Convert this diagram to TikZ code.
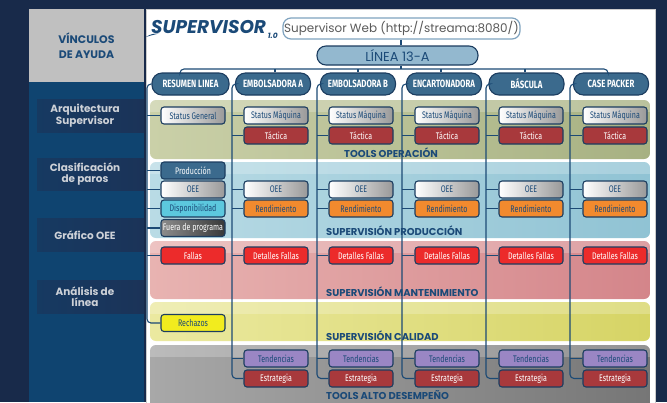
\documentclass[tikz,border=0pt]{standalone}
\usepackage{fontspec}
\setmainfont{Poppins}
\newfontfamily\cond[FakeStretch=0.74]{Fira Sans}
\definecolor{navy}{HTML}{182A4A}
\definecolor{panelblue}{HTML}{0F4470}
\definecolor{menuband}{HTML}{1B3358}
\definecolor{lgray}{HTML}{C0C0C0}
\definecolor{dblue}{HTML}{1B4A78}
\definecolor{bord}{HTML}{1C3D60}
\definecolor{conncol}{HTML}{1C4A75}
\definecolor{hdrfill}{HTML}{3B6A8D}
\definecolor{lineafill}{HTML}{93B8CF}
\definecolor{boxgray}{HTML}{999999}
\definecolor{tactred}{HTML}{A8393C}
\definecolor{dispcyan}{HTML}{5CC8DE}
\definecolor{rendor}{HTML}{F28A2E}
\definecolor{fallred}{HTML}{EC2B2B}
\definecolor{rechy}{HTML}{F2EC1E}
\definecolor{tendp}{HTML}{9A86C4}
\definecolor{menutext}{HTML}{CDD1D7}
\definecolor{webgray}{HTML}{5A5A5A}
\definecolor{webbord}{HTML}{7FA3BF}
\definecolor{oliveL}{HTML}{CAD0A8}
\definecolor{oliveR}{HTML}{A7B182}
\definecolor{blueL}{HTML}{B9DBE5}
\definecolor{blueR}{HTML}{90C3D4}
\definecolor{pinkL}{HTML}{E8B3B1}
\definecolor{pinkR}{HTML}{D4858A}
\definecolor{yelL}{HTML}{EBE9A0}
\definecolor{yelR}{HTML}{D6D465}
\definecolor{grayL}{HTML}{A8A8A8}
\definecolor{grayR}{HTML}{767676}
\begin{document}
\begin{tikzpicture}[x=1bp,y=-1bp,
  conn/.style={draw=conncol, line width=1.1bp},
  box/.style={draw=bord, line width=1.1bp, rounded corners=3bp, minimum width=64bp,
    minimum height=17bp, inner sep=0pt, font=\cond\fontsize{9.6}{10}\selectfont},
  gbox/.style={box, left color=white, right color=boxgray, text=dblue},
  tbox/.style={box, fill=tactred, text=white},
  pbox/.style={box, fill=hdrfill, text=white},
  dbox/.style={box, fill=dispcyan, text=dblue},
  fbox/.style={box, left color=black!45, right color=black!78, text=white},
  rbox/.style={box, fill=rendor, text=dblue},
  fabox/.style={box, fill=fallred, text=white},
  rebox/.style={box, fill=rechy, text=dblue},
  tebox/.style={box, fill=tendp, text=dblue},
  hdr/.style={draw=bord, line width=1.1bp, fill=hdrfill, rounded corners=10bp,
    minimum width=75bp, minimum height=22bp, inner sep=0pt, text=white,
    font=\cond\bfseries\fontsize{10.6}{11}\selectfont},
  bandlabel/.style={anchor=west, inner sep=0pt, text=dblue, font=\bfseries\fontsize{10}{10}\selectfont},
  menu/.style={align=center, text=menutext, inner sep=0pt, font=\bfseries\fontsize{10.5}{11.5}\selectfont},
  menuband/.style={left color=menuband!60!panelblue, right color=menuband, draw=none}
]
\useasboundingbox (0,0) rectangle (667,402);
\fill[navy] (0,0) rectangle (667,402);
% left panel
\fill[lgray] (29,9) rectangle (144,82);
\fill[panelblue] (29,82) rectangle (144,402);
\node[align=center, text=dblue, inner sep=0pt, font=\bfseries\fontsize{11}{15}\selectfont] (vinc) at (86.5,46) {VÍNCULOS\\DE AYUDA};
\fill[menuband] (37,99) rectangle (144,132);
\fill[menuband] (37,158) rectangle (144,190);
\fill[menuband] (37,218) rectangle (144,251);
\fill[menuband] (37,280) rectangle (144,313);
\node[menu] (m1) at (85,115.5) {Arquitectura\\Supervisor};
\node[menu] (m2) at (85,174) {Clasificación\\de paros};
\node[menu] (m3) at (85,235) {Gráfico OEE};
\node[menu] (m4) at (85,296.5) {Análisis de\\línea};
% main white panel
\fill[white, draw=black!20, line width=0.8bp] (146,9) rectangle (655,405);
% bands
\def\band#1#2#3#4{%
  \begin{scope}
  \clip[rounded corners=6bp] (150,#1) rectangle (650,#2);
  \shade[left color=#3, right color=#4] (150,#1) rectangle (650,#2);
  \fill[white, opacity=0.22] (150,#1) rectangle (650,#1+12);
  \end{scope}}
\band{100}{159}{oliveL}{oliveR}
\band{162}{238}{blueL}{blueR}
\band{241}{299}{pinkL}{pinkR}
\band{302}{341}{yelL}{yelR}
\band{345}{410}{grayL}{grayR}
\node[bandlabel] (lb1) at (344,153) {TOOLS OPERACIÓN};
\node[bandlabel] (lb2) at (326,230.5) {SUPERVISIÓN PRODUCCIÓN};
\node[bandlabel] (lb3) at (326,292) {SUPERVISIÓN MANTENIMIENTO};
\node[bandlabel] (lb4) at (326,335.5) {SUPERVISIÓN CALIDAD};
\node[bandlabel] (lb5) at (326,395) {TOOLS ALTO DESEMPEÑO};
% logo
\node[anchor=base west, inner sep=0pt, text=dblue, font=\bfseries\itshape\fontsize{18.5}{19}\selectfont] (logo) at (151,33) {SUPERVISOR};
\node[anchor=base west, inner sep=0pt, text=dblue, font=\bfseries\itshape\fontsize{7.5}{8}\selectfont] (ver) at ([xshift=1.5bp,yshift=-5bp]logo.base east) {1.0};
\fill[dblue] (146,37) .. controls (150,34) and (155,33.3) .. (159,33.5) .. controls (155,34.5) and (150,35.5) .. (146,37) -- cycle;
% web + linea
\node[draw=webbord, line width=1.2bp, fill=white, rounded corners=8bp, minimum width=237bp, minimum height=21bp, inner sep=0pt, text=webgray, font=\fontsize{12}{12}\selectfont] (web) at (401.5,28.5) {Supervisor Web (http://streama:8080/)};
\node[draw=bord, line width=1.1bp, fill=lineafill, rounded corners=9bp, minimum width=161bp, minimum height=19bp, inner sep=0pt, text=dblue, font=\fontsize{13}{13}\selectfont] (linea) at (397.5,55.5) {LÍNEA 13-A};
\draw[conn] (web.south -| 401,0) -- (linea.north -| 401,0);
\coordinate (bus) at (401,69);
% headers
\node[hdr, minimum width=77bp] (h0) at (190.5,84) {RESUMEN LINEA};
\node[hdr] (h1) at (273,84) {EMBOLSADORA A};
\node[hdr] (h2) at (358,84) {EMBOLSADORA B};
\node[hdr] (h3) at (444,84) {ENCARTONADORA};
\node[hdr] (h4) at (526.5,84) {BÁSCULA};
\node[hdr] (h5) at (611,84) {CASE PACKER};
\draw[conn] (linea.south -| bus) -- (bus);
\draw[conn, rounded corners=4bp] ([xshift=-10.5bp]h0.north) |- (bus) -| ([xshift=-3bp]h5.north);
\foreach \i/\dx in {1/2,2/0,3/-3,4/-1.5}{
  \draw[conn] ([xshift=\dx bp]h\i.north) -- ([xshift=\dx bp]h\i.north |- bus);
}
% column 0
\coordinate (L0) at (147,84);
\node[gbox] (sg0) at (193,115.5) {Status General};
\node[pbox] (pr0) at (193,170.5) {Producción};
\node[gbox] (oe0) at (193,189.5) {OEE};
\node[dbox] (di0) at (193,208.5) {Disponibilidad};
\node[fbox] (fu0) at (193,228) {Fuera de programa};
\node[fabox] (fa0) at (193,255.5) {Fallas};
\node[rebox] (rc0) at (193,323) {Rechazos};
\draw[conn, rounded corners=4bp] (h0.west) -| (rc0.west -| L0) -- (rc0.west);
\foreach \b in {sg0,pr0,oe0,di0,fu0,fa0}{
  \draw[conn] (\b.west -| L0) -- (\b.west);
}
% columns 1-5
\foreach \i/\cx/\lx in {1/276/232,2/361/317,3/447/402,4/531/486,5/615/570}{
  \coordinate (L\i) at (\lx,84);
  \node[gbox] (sm\i) at (\cx,115.5) {Status Máquina};
  \node[tbox] (ta\i) at (\cx,135.5) {Táctica};
  \node[gbox] (oe\i) at (\cx,189.5) {OEE};
  \node[rbox] (re\i) at (\cx,208.5) {Rendimiento};
  \node[fabox] (df\i) at (\cx,255.5) {Detalles Fallas};
  \node[tebox] (te\i) at (\cx,358.5) {Tendencias};
  \node[tbox] (es\i) at (\cx,378.5) {Estrategia};
  \draw[conn, rounded corners=4bp] (h\i.west) -| (es\i.west -| L\i) -- (es\i.west);
  \foreach \b in {sm,ta,oe,re,df,te}{
    \draw[conn] (\b\i.west -| L\i) -- (\b\i.west);
  }
}
\end{tikzpicture}
\end{document}
